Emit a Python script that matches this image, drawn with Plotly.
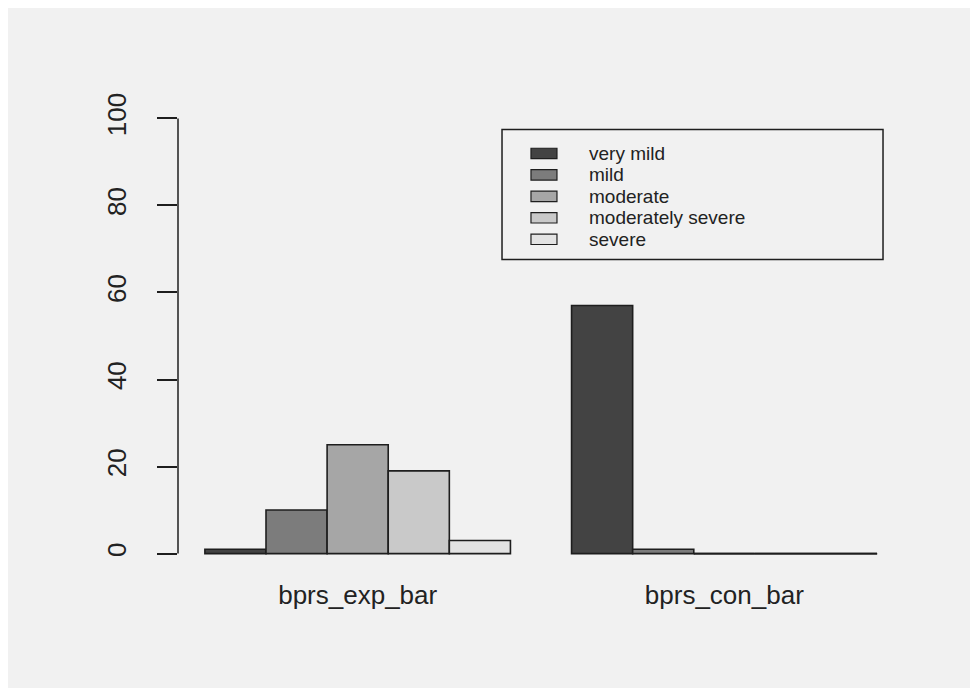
import plotly.graph_objects as go

# ---- data ----
groups = ["bprs_exp_bar", "bprs_con_bar"]
severity = ["very mild", "mild", "moderate", "moderately severe", "severe"]
exp_values = [1, 10, 25, 19, 3]
con_values = [57, 1, 0, 0, 0]
y_ticks = [0, 20, 40, 60, 80, 100]

values_by_group = [exp_values, con_values]
fills = ["#434343", "#7c7c7c", "#a6a6a6", "#c9c9c9", "#e3e3e3"]
line_col = "#1e1e1e"
font_fam = "Liberation Sans, Arial, sans-serif"

# R barplot(beside=TRUE) layout: space=c(0,1), width=1
n = len(severity)
def bar_center(g, i):
    return 1 + g * (n + 1) + i + 0.5

fig = go.Figure()
for i, name in enumerate(severity):
    xs = [bar_center(g, i) for g in range(len(groups))]
    ys = [values_by_group[g][i] for g in range(len(groups))]
    fig.add_trace(go.Bar(
        x=xs, y=ys, width=[1] * len(xs), name=name,
        marker=dict(color=fills[i], line=dict(color=line_col, width=1.6)),
        hoverinfo="skip", showlegend=False,
    ))

# zero-height bars are drawn as flat outlines in R
zx, zy = [], []
for g in range(len(groups)):
    for i in range(n):
        if values_by_group[g][i] == 0:
            c = bar_center(g, i)
            zx += [c - 0.5, c + 0.5, None]
            zy += [0, 0, None]
fig.add_trace(go.Scatter(x=zx, y=zy, mode="lines", showlegend=False,
                         line=dict(color=line_col, width=1.6), hoverinfo="skip"))

x_min = 1
x_max = 1 + len(groups) * (n + 1) - 1
ext = 0.04 * (x_max - x_min)
group_centers = [sum(bar_center(g, i) for i in range(n)) / n for g in range(len(groups))]

fig.update_layout(
    width=978, height=688,
    margin=dict(l=170, r=82, t=93, b=125),
    paper_bgcolor="#f1f1f1", plot_bgcolor="#f1f1f1",
    barmode="overlay",
    font=dict(family=font_fam, size=26, color="#222222"),
    showlegend=False,
    xaxis=dict(
        range=[x_min - ext, x_max + ext],
        tickmode="array", tickvals=group_centers, ticktext=groups,
        ticks="", showgrid=False, zeroline=False, showline=False,
        ticklabelstandoff=6,
    ),
    yaxis=dict(
        range=[-4, 104], tickmode="array", tickvals=y_ticks,
        ticktext=[str(v) for v in y_ticks], tickangle=-90,
        ticks="outside", ticklen=20, tickwidth=1.5, tickcolor=line_col,
        showgrid=False, zeroline=False, showline=False,
        ticklabelstandoff=21,
    ),
)
# y axis line spanning the tick range only (like R's axis())
fig.add_shape(type="line", xref="paper", x0=0, x1=0, yref="y",
              y0=min(y_ticks), y1=max(y_ticks),
              line=dict(color=line_col, width=1.5))

# legend box (R style legend, top-right)
box_x0, box_x1 = 0.4463, 0.9711
box_y0, box_y1 = 0.663, 0.9396
fig.add_shape(type="rect", xref="paper", yref="paper",
              x0=box_x0, x1=box_x1, y0=box_y0, y1=box_y1,
              line=dict(color=line_col, width=1.5), fillcolor="rgba(0,0,0,0)")
row0, row_step = 0.8885, 0.0457
sw_x0, sw_x1, sw_h = 0.4862, 0.5220, 0.0110
txt_x = 0.5647
for i, name in enumerate(severity):
    yc = row0 - i * row_step
    fig.add_shape(type="rect", xref="paper", yref="paper",
                  x0=sw_x0, x1=sw_x1, y0=yc - sw_h, y1=yc + sw_h,
                  line=dict(color=line_col, width=1.2), fillcolor=fills[i])
    fig.add_annotation(xref="paper", yref="paper", x=txt_x, y=yc,
                       text=name, showarrow=False, xanchor="left", yanchor="middle",
                       borderpad=0,
                       font=dict(family=font_fam, size=19, color="#222222"))

fig.write_html("out.html")
